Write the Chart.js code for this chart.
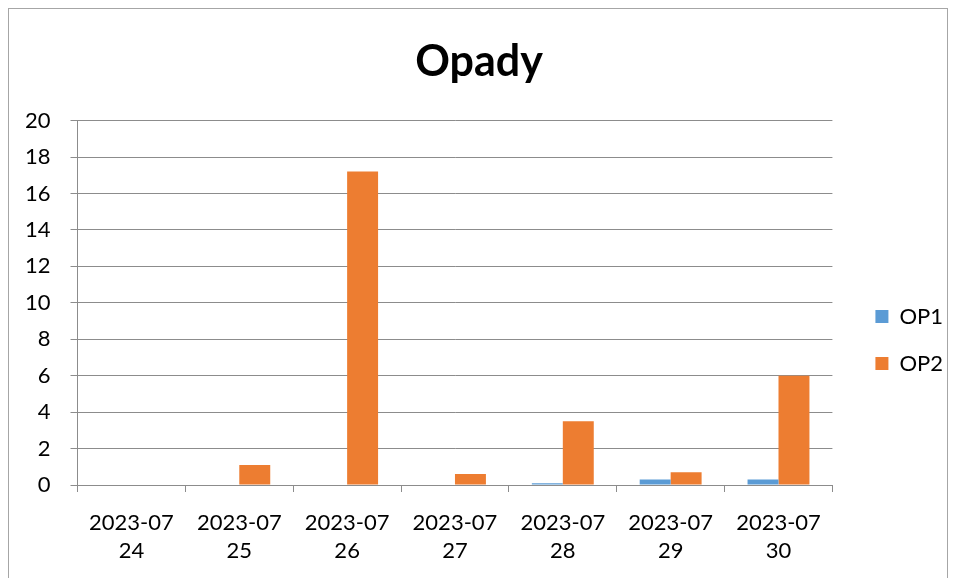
<!DOCTYPE html>
<html>
<head>
<meta charset="utf-8">
<script src="https://cdn.jsdelivr.net/npm/chart.js@4.4.0/dist/chart.umd.min.js"></script>
<style>
  html, body { margin: 0; padding: 0; background: #fff; }
  #wrap { position: relative; width: 956px; height: 578px; }
  #frame { position: absolute; left: 8px; top: 8px; width: 940px; height: 575px; border: 1px solid #a6a6a6; box-sizing: border-box; }
  #c { position: absolute; left: 0; top: 0; }
</style>
</head>
<body>
<div id="wrap">
  <div id="frame"></div>
  <canvas id="c" width="956" height="578"></canvas>
</div>
<script>
var days = [
  ['2023-07', '24'], ['2023-07', '25'], ['2023-07', '26'], ['2023-07', '27'],
  ['2023-07', '28'], ['2023-07', '29'], ['2023-07', '30']
];
var op1 = [0, 0, 0, 0, 0.1, 0.3, 0.3];
var op2 = [0, 1.1, 17.2, 0.6, 3.5, 0.7, 6.0];

var gridColor = '#8c8c8c';
var font = 'Lato, Carlito, Calibri, sans-serif';

var ctx = document.getElementById('c');
var chart = new Chart(ctx, {
  type: 'bar',
  data: {
    labels: days,
    datasets: [
      { label: 'OP1', data: op1, backgroundColor: '#5B9BD5', barPercentage: 1, categoryPercentage: 0.574 },
      { label: 'OP2', data: op2, backgroundColor: '#ED7D31', barPercentage: 1, categoryPercentage: 0.574 }
    ]
  },
  options: {
    responsive: false,
    animation: false,
    layout: { padding: { top: 28, left: 5, right: 3, bottom: -4 } },
    plugins: {
      title: {
        display: true,
        text: 'Opady',
        color: '#000',
        font: { family: font, size: 43, weight: 'bold', lineHeight: 1.2 },
        padding: { top: 8, bottom: 33 }
      },
      legend: {
        position: 'right',
        title: { display: true, text: ' ', font: { size: 10, lineHeight: 1.2 }, padding: 29 },
        labels: {
          color: '#000',
          font: { family: font, size: 22 },
          boxWidth: 13,
          boxHeight: 13,
          padding: 25
        }
      },
      tooltip: { enabled: false }
    },
    scales: {
      x: {
        grid: { offset: true, drawOnChartArea: false, color: gridColor, tickLength: 7, lineWidth: 1 },
        border: { color: gridColor },
        ticks: { color: '#000', font: { family: font, size: 22, lineHeight: '28px' }, padding: 17, maxRotation: 0 }
      },
      y: {
        min: 0,
        max: 20,
        grid: { color: gridColor, tickLength: 7 },
        border: { color: gridColor },
        ticks: { stepSize: 2, color: '#000', font: { family: font, size: 22 }, padding: 20 }
      },
      gap: {
        // empty axis on the right, only keeps space between plot and legend
        type: 'linear',
        position: 'right',
        display: true,
        grid: { display: false },
        border: { display: false },
        ticks: { display: false },
        afterFit: function(s) { s.width = 18; }
      }
    }
  }
});
</script>
</body>
</html>
